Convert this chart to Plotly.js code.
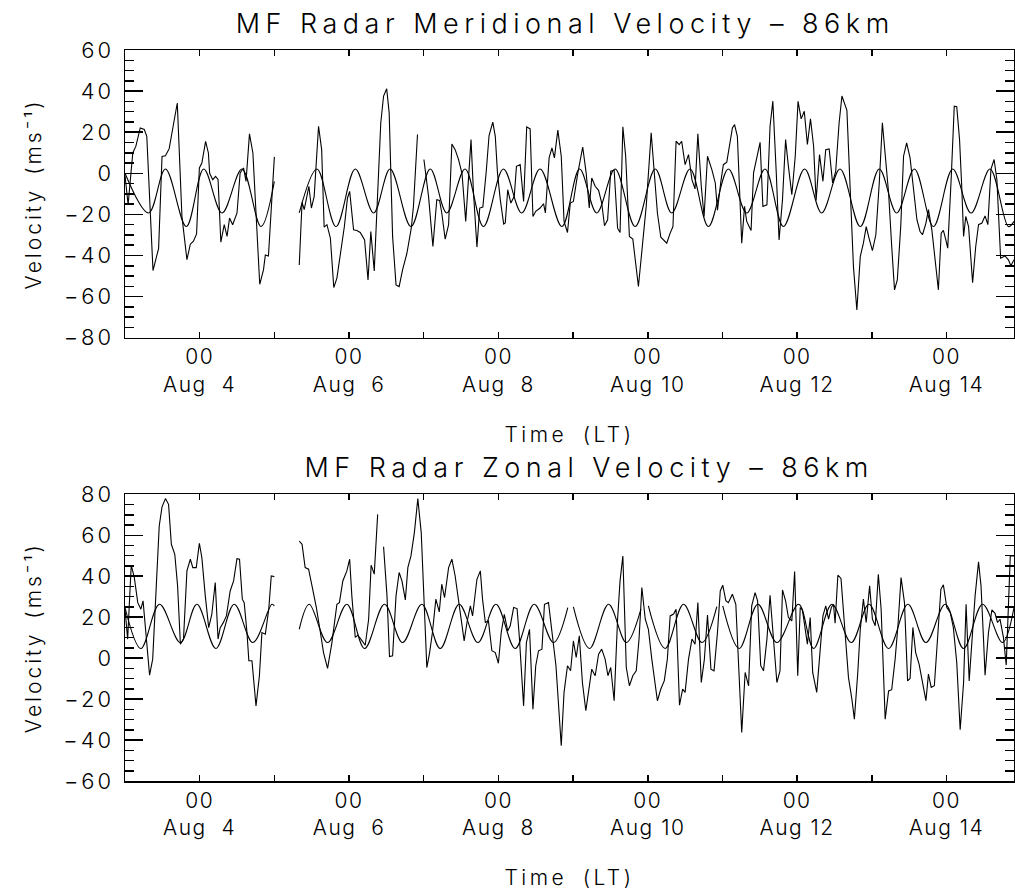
<!DOCTYPE html>
<html><head><meta charset="utf-8">
<script src="https://cdn.plot.ly/plotly-3.0.1.min.js"></script>
<style>
html,body{margin:0;padding:0;background:#fff;}
#chart{width:1015px;height:892px;}
g.annotation text{letter-spacing:5.5px;}
g.g-xtitle text, g.g-x2title text{letter-spacing:3.5px;word-spacing:6px;}
g.g-ytitle text, g.g-y2title text{letter-spacing:3px;word-spacing:4px;}
g.xtick text, g.x2tick text{letter-spacing:1.5px;}
g.ytick text, g.y2tick text{letter-spacing:3px;}
</style>
</head><body><div id="chart"></div>
<script>
// time in hours since Aug 3 00:00 LT
var merTime = [0,1.0,2.5,3.5,4.9,6.2,7.0,9.0,10.8,11.9,13.0,14.2,15.6,16.8,18.3,19.9,21.0,22.0,23.0,23.9,24.7,25.9,26.8,27.2,28.2,29.1,29.9,30.8,31.9,32.8,33.6,34.6,36.0,37.0,38.1,38.9,40.0,41.1,43.3,44.5,45.1,46.1,48.0,52,
56.0,56.9,57.6,58.5,59.1,59.9,60.8,62.2,63.2,64.0,64.9,66.0,67.1,68.1,69.2,70.5,71.5,72.2,73.46,74.5,75.6,77.0,78.1,79.0,80.1,81.2,82.2,83.1,84.1,84.9,86.0,87.1,88.1,89.2,90.6,92.0,92.7,94.0,95.0,
96.06,97.55,98.95,100.2,101.1,101.8,102.9,104.0,105.05,106.1,107.2,108.3,109.5,111.2,112.0,113.1,114.0,115.0,116.1,117.0,118.2,119.0,119.7,120.6,121.7,122.2,123.0,124.0,125.1,125.8,127.0,128.1,129.1,130.2,131.1,132.0,133.4,134.5,135.1,136.3,137.2,138.0,139.1,140.2,141.1,142.2,143.1,144.1,
145.5,147.1,148.2,149.2,150.0,151.1,152.2,153.2,154.1,155.1,156.1,157.2,158.3,159.1,160.0,160.9,162.1,163.2,165.0,166.1,167.5,169.1,170.1,171.1,172.2,174.1,175.2,176.1,177.1,178.1,178.9,180.0,181.1,182.2,183.2,184.1,185.2,186.1,187.2,188.6,189.7,190.4,191.5,192.3,193.4,195.2,195.9,196.8,198.2,199.1,199.8,201.2,202.0,203.1,204.1,205.0,206.3,207.3,208.2,209.3,210.2,211.3,212.3,213.2,214.3,215.4,
216.3,217.3,218.3,219.3,220.3,221.3,222.1,223.2,224.3,225.2,226.3,227.4,228.4,229.5,230.4,232.0,233.0,234.1,235.2,236.3,237.3,238.2,239.1,240.2,241.3,242.4,243.4,244.3,245.4,246.4,247.3,248.2,249.3,250.2,251.2,252.3,253.4,254.5,255.5,256.3,257.4,258.2,259.3,260.4,261.4,262.3,263.0,263.8,264.4,265.5,266.5,267.3,268.2,268.9,269.5,270.2,271.1,272.4,273.4,274.3,275.4,276.4,277.3,278.3,279.3,280.2,281.4,282.8,283.9,284.7,285.7];
var merVel = [-1,-15.3,9.9,13.2,22.1,21.3,18,-47.3,-36.5,8.2,8.5,12,24,34.2,-21,-42,-34.5,-33,-29.5,2.6,5,15.5,9.9,0,-3.1,-1.5,-3,-33.5,-25,-30.7,-21.8,-25,-19.3,0.2,2.6,-3.9,19.2,9.9,-54,-47,-39.7,-40.2,8.0,null,
-44.6,-14.1,-17.7,-11.2,-6.3,-16.9,-11.2,22.9,11.5,-26.2,-25,-31.5,-55.6,-51,-38.9,-25.9,-12,-8.8,-27.5,-27.8,-28.8,-32.4,-51.9,-28.3,-47.5,-12.8,24.6,37.6,41.1,29.4,-30.7,-54.3,-55.1,-47,-38.9,-26.7,-16,18.9,null,
6.7,-11.2,-35.6,-12.8,-13.2,-19.3,-32,-25,14.3,11.5,6.7,0,-23.4,16.4,-9.6,-35.9,-16.9,-16.4,1,18.4,24.9,18,0.2,-12.8,-24.7,-24.2,-8,-14.5,-11.2,3.4,4.2,-13.7,22.6,21.6,-21,-18.5,-16.9,-14.8,-19.3,7.5,12.4,7.5,21,8.3,-23.4,-28.8,-14.5,-13.7,
0,12.8,0.2,-16.9,-2.3,-6.3,-8.3,-14.5,-25.5,-22.6,1,1.5,-26.7,-28.8,22.6,8.3,-30.7,-32,-55.1,-37.2,-16.1,19.7,-1.5,-19.3,-31.1,-34,-29.1,-25.9,15.6,14,15.6,4.2,9.1,-3.1,-7.6,19.2,-6.3,-21,8.3,1.8,-4.7,-18,-3.9,4.2,5.4,22.1,23.7,18,-34,-16.1,-23.4,-27.8,0.2,8.3,15.1,-16.1,-15.3,22.9,35.1,0.2,-32.4,-12.8,16.4,3.4,-10.4,8.3,
35,26.5,30.2,14,26.5,13.2,-13.2,9.1,-3.9,11.5,11.9,-4.7,1,24.6,37.6,30.6,-8,-45.4,-66.5,-40.5,-34,-25.9,-31.5,-37.6,-29.9,-4.7,24.6,8.3,-9.6,-35.6,-56.7,-51.9,-25.9,8.3,14.8,7.5,-8,-22.6,-28.3,-29.9,-24.2,-17.7,-27.5,-42.1,-56.7,-29.1,-27.8,-32.4,-36.4,-3.1,32.7,32.4,16.4,-6.3,-30.7,-21,-25.9,-53.2,-35.6,-25,-24.2,-20.7,-25,2.1,6.7,-3.1,-41.3,-40.2,-42.1,-45,-42];

var merFitTime = [0,7.6,13.0,19.7,25.3,31.2,37.6,43.7,48.0,52,56.0,61.7,67.8,74.0,79.9,85.2,91.9,98.1,103.4,109.3,115.2,121.6,127.5,133.4,140.4,146.1,151.6,157.5,163.95,170.4,175.7,181.6,187.5,193.9,199.8,205.7,211.6,218.4,223.9,229.8,236.3,242.4,248.0,253.7,259.8,266.0,271.9,278.0,283.9,285.7];
var merFitVel = [0,-19.3,2.1,-25.9,2.1,-19.3,2.1,-25.9,-3.9,null,-19.3,2.1,-25.9,2.1,-19.3,2.1,-25.9,2.1,-19.3,2.1,-25.9,2.1,-19.3,2.1,-25.9,2.1,-19.3,2.1,-25.9,2.1,-19.3,2.1,-25.9,2.1,-19.3,2.1,-25.9,2.1,-19.3,2.1,-25.9,2.1,-19.3,2.1,-25.9,2.1,-19.3,2.1,-25.9,-23.4];

var zonTime = [0,0.85,2.0,3.0,4.1,5.1,5.8,6.8,7.9,8.9,9.95,11.0,11.9,13.0,14.0,14.9,16.0,16.9,17.8,18.8,19.9,21.0,21.8,22.9,23.9,24.7,25.8,26.9,27.9,29.0,29.9,30.6,31.5,32.6,33.8,34.9,35.98,36.8,37.7,38.3,39.2,39.8,40.8,42.1,43.2,44.0,45.1,46.2,47.0,48.0,52,
56.0,56.9,57.9,59.0,60.1,61.5,62.8,63.8,65.1,66.5,68.1,68.9,70.0,71.3,72.2,72.9,74.0,74.8,75.8,77.2,78.3,79.1,80.1,81.2,82.2,
83.1,84.2,85.0,86.0,87.1,88.1,89.0,90.1,90.9,91.9,93.0,94.1,95.2,95.95,97.0,97.9,98.8,99.9,101.0,101.8,102.7,104.0,105.05,106.1,107.2,108.0,109.0,109.9,111.0,111.7,113.1,114.2,114.9,115.8,116.8,117.9,119.0,120.0,120.9,121.9,123.0,123.8,124.9,126.0,126.7,128.1,129.0,130.0,131.1,132.0,132.9,134.0,134.8,136.1,137.2,138.5,140.2,141.1,142.2,143.2,
144.1,145.0,146.0,147.0,148.1,149.2,150.0,151.1,152.2,153.2,154.3,155.2,156.1,157.2,158.3,159.1,160.0,161.1,162.1,163.2,164.3,165.2,166.1,167.2,168.2,169.3,171.1,172.2,173.3,174.3,175.2,176.3,177.1,178.2,179.2,180.0,181.1,182.2,183.2,184.1,185.2,186.2,187.2,188.3,189.3,190.4,191.3,192.1,193.1,193.9,195.2,196.3,197.2,198.2,199.3,200.4,201.4,202.5,203.3,204.3,205.2,206.3,207.3,208.4,209.5,210.5,211.3,212.3,213.2,214.3,215.2,216.2,
217.0,217.7,218.6,219.3,220.2,221.0,222.3,223.2,224.3,225.2,226.1,227.0,227.7,228.2,229.1,230.1,231.4,232.5,233.6,234.4,235.5,236.3,237.3,238.2,239.3,240.2,241.1,242.1,243.0,244.3,245.4,246.4,247.5,248.4,249.4,250.5,251.5,252.3,253.2,254.1,255.2,256.3,257.4,258.2,259.1,260.1,261.2,262.2,263.0,264.1,265.2,266.2,267.3,268.4,269.5,270.3,271.3,272.5,273.2,274.3,275.1,275.9,276.4,277.5,278.6,279.6,280.4,281.2,282.3,283.2,284.5,285.7];
var zonVel = [24,9.3,45.4,39.3,27.1,23.9,28,10.9,-8.3,-0.5,35.3,64.5,73.9,77.9,75.1,55.6,50.7,35.3,6.8,9.3,42.6,48.3,44.2,44.2,56.1,49.1,30.4,14.9,21.5,36.9,9.3,14.9,17.1,20.6,32.8,37.7,48.6,48.3,28.8,27.1,12.5,-1.3,-1.3,-23.3,-8.6,12.5,11.7,23.9,40.1,39.8,null,
57.2,55.6,44.2,43.4,35.3,24.7,12.5,2.7,-5.0,7.6,26.3,27.1,37.7,42.6,48.3,30.4,10.1,11.2,9.3,6.3,19,45.4,41,70.2,null,
54.4,30.4,0.8,1.1,30.4,41.8,37.7,28.4,44.2,49.9,61.3,77.9,61.3,30.4,-4.6,2.7,12.5,28.8,22.6,36.1,29.6,44.2,48.3,40.1,28,19,8.4,17.4,25.5,20.6,38.5,42.6,28.8,17.4,18.2,3.6,2.7,-2.5,12.5,21.4,13.3,15.8,24.7,24.2,10.9,-23.3,7.6,14.1,-24.9,-3.7,3.6,4.4,26.3,27.1,12.5,-3.7,-42.8,-16.7,-3.7,-6.2,
8.4,0.3,10.9,-11.9,-25.7,-15.1,-5.4,-8.6,1.9,4.4,-0.5,-8.6,-4.6,-20.8,19,37.7,49.9,-4.6,-13.5,-8.6,-6.2,9.3,34.5,19,14.1,-0.5,-20.8,-15.1,-11.1,-0.5,20.6,21.5,23.9,-23,-15.1,-16.7,-0.5,9.3,6.8,27.1,-11.9,-0.5,21.1,-5.4,-6.2,12.5,32.8,35.6,28,27.1,31.2,26.3,-6.2,-36.3,-7,-13.5,25.5,32,28,-3.7,-6.2,9.3,30.7,7.6,-11.9,-6.2,33.3,28,19.8,18.2,42.3,-8.6,
24.7,23.6,15,6.8,19.8,-7,-16.7,1.1,20.6,25.5,19,24.7,26.3,17.1,40.5,38.9,10.9,-9.4,-20,-29.8,-7,14.1,28.8,17.4,35.3,19,15.8,41,23.9,-29.8,-16,-15.4,-0.5,15.8,39.3,27.1,-11.1,-9.9,15,2.7,-2.9,-11.9,-20.8,-7.8,-14.3,-13.5,12.5,33.6,35.8,24.7,22.3,15,-2.1,-35,-11.9,26.3,-11.1,12.5,30.4,47,35.3,9.3,-8.3,12.5,23.6,21.9,17.4,19,10.1,-3.4,49.9,49.9];

var zonFitTime = [0,5.1,11.1,17.8,23.1,29.2,35.1,41.1,47.2,48.0,52,56.0,59.2,65.1,71.3,77.0,83.4,89.2,95.4,101.3,107.4,113.4,119.2,125.4,131.5,137.7,142.3,143.2,144.1,149.3,155.4,161.1,165.8,167.0,168.2,173.6,179.5,185.4,190.2,191.0,192.1,197.4,203.4,209.5,216.5,221.3,227.2,233.4,239.1,245.4,251.6,257.4,263.6,269.5,275.6,282.0,285.7];
var zonFitVel = [24.7,4.7,26.3,7.6,26.3,4.7,26.3,7.6,26.3,25.5,null,14.1,26.3,7.6,26.3,4.7,26.3,7.6,26.3,4.7,26.3,7.6,26.3,4.7,26.3,7.6,24.7,null,25.0,4.7,26.3,7.6,23.9,null,25.5,4.7,26.3,7.6,25.2,null,25.5,4.7,26.3,7.6,26.3,4.7,26.3,7.6,26.3,4.7,26.3,7.6,26.3,4.7,26.3,7.6,24.7];

// labelled ticks every 2 days at 00 LT; unlabelled day ticks drawn as minor ticks
var labelTicks = [24,72,120,168,216,264];
var labelText = ['00<br>Aug\u00a0\u00a04','00<br>Aug\u00a0\u00a06','00<br>Aug\u00a0\u00a08','00<br>Aug\u00a010','00<br>Aug\u00a012','00<br>Aug\u00a014'];

var titles = ['MF Radar Meridional Velocity \u2013 86km','MF Radar Zonal Velocity \u2013 86km'];
var xTitle = 'Time (LT)';
var yTitle = 'Velocity (ms\u207B\u00B9)';

var FONT = 'Inter, "Open Sans", "Liberation Sans", sans-serif';
var lineStyle = {color:'#000', width:1.1};

var traces = [
  {x:merTime, y:merVel, xaxis:'x', yaxis:'y', mode:'lines', line:lineStyle, connectgaps:false, hoverinfo:'skip'},
  {x:merFitTime, y:merFitVel, xaxis:'x', yaxis:'y', mode:'lines', line:Object.assign({shape:'spline', smoothing:1}, lineStyle), connectgaps:false, hoverinfo:'skip'},
  {x:zonTime, y:zonVel, xaxis:'x2', yaxis:'y2', mode:'lines', line:lineStyle, connectgaps:false, hoverinfo:'skip'},
  {x:zonFitTime, y:zonFitVel, xaxis:'x2', yaxis:'y2', mode:'lines', line:Object.assign({shape:'spline', smoothing:1}, lineStyle), connectgaps:false, hoverinfo:'skip'}
];

var afont = {family:FONT, size:21, color:'#000', weight:300};
var tfont = {family:FONT, size:27, color:'#000', weight:300};

function xAxis(anchor){
  return {anchor:anchor, domain:[0,1], range:[0,285.7], tickmode:'array', tickvals:labelTicks, ticktext:labelText,
    ticks:'inside', ticklen:6, tickwidth:1.5, tickcolor:'#000',
    minor:{tickmode:'linear', tick0:0, dtick:24, ticks:'inside', ticklen:6, tickwidth:1.5, tickcolor:'#000', showgrid:false},
    mirror:'ticks', showline:true, linewidth:1.5, linecolor:'#000',
    showgrid:false, zeroline:false, tickfont:{family:FONT, size:21, color:'#000', weight:300}, ticklabelstandoff:0,
    title:{text:xTitle, font:afont, standoff:31}, automargin:false, fixedrange:true};
}
function yAxis(anchor, dom, rng){
  return {anchor:anchor, domain:dom, range:rng, tick0:0, dtick:20, ticks:'inside', ticklen:18, tickwidth:1.5, tickcolor:'#000',
    minor:{dtick:5, tick0:0, ticks:'inside', ticklen:9, tickwidth:1.5, tickcolor:'#000', showgrid:false},
    mirror:'ticks', showline:true, linewidth:1.5, linecolor:'#000', showgrid:false, zeroline:false,
    tickfont:{family:FONT, size:22, color:'#000', weight:300}, ticklabelstandoff:5,
    title:{text:yTitle, font:afont, standoff:16}, automargin:false, fixedrange:true};
}

var layout = {
  width:1015, height:892, paper_bgcolor:'#fff', plot_bgcolor:'#fff', showlegend:false,
  margin:{l:125, r:1, t:50, b:111},
  xaxis:xAxis('y'), yaxis:yAxis('x',[0.6064,1],[-80,60]),
  xaxis2:xAxis('y2'), yaxis2:yAxis('x2',[0,0.3922],[-60,80]),
  annotations:[
    {text:titles[0], xref:'paper', yref:'paper', x:0.4944, y:1.0369, xanchor:'center', yanchor:'middle', showarrow:false, font:tfont},
    {text:titles[1], xref:'paper', yref:'paper', x:0.5214, y:0.4282, xanchor:'center', yanchor:'middle', showarrow:false, font:tfont}
  ]
};

Plotly.newPlot('chart', traces, layout, {staticPlot:true, displayModeBar:false});
</script></body></html>
